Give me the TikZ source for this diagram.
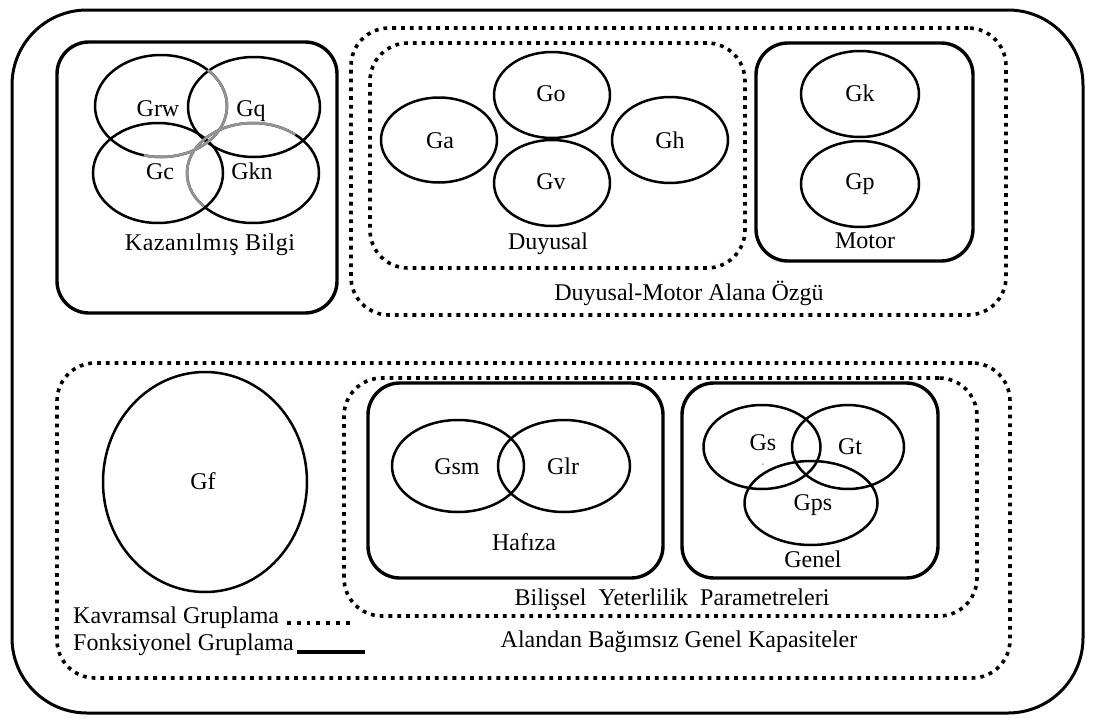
\documentclass[tikz,border=0pt]{standalone}
\usepackage{fontspec}
\setmainfont{Liberation Serif}
\usetikzlibrary{shapes.geometric}
\tikzset{
  solidbox/.style={draw, line width=3.4pt, rounded corners=32pt, inner sep=0pt},
  dotbox/.style={draw, line width=3.6pt, dash pattern=on 3.8pt off 5pt, rounded corners=38pt, inner sep=0pt},
  ell/.style={draw, ellipse, line width=2.5pt, inner sep=0pt},
  greyarc/.style={draw=black!42, line width=2.5pt},
  lbl/.style={inner sep=0pt, text height=15.5pt, text depth=0pt, font=\fontsize{24}{26}\selectfont},
  spaced/.style={inner sep=0pt, text height=15.5pt, text depth=0pt, font=\fontsize{24}{26}\selectfont\addfontfeature{LetterSpace=2}}
}
\begin{document}
\begin{tikzpicture}[x=1pt,y=-1pt]
\useasboundingbox (0,0) rectangle (1093,720);
% outer frame
\node[draw, line width=3pt, rounded corners=75pt, minimum width=1071pt, minimum height=703pt, inner sep=0pt] (outer) at (547.5,361.5) {};

% Kazanilmis Bilgi
\node[solidbox, minimum width=280pt, minimum height=271pt] (kaz) at (197,177.5) {};
\node[ell, minimum width=132pt, minimum height=102pt] (grw) at (161,106) {};
\node[ell, minimum width=132pt, minimum height=100pt] (gq) at (254,107) {};
\node[ell, minimum width=130pt, minimum height=100pt] (gc) at (158,173) {};
\node[ell, minimum width=132pt, minimum height=100pt] (gkn) at (253,173) {};
\draw[greyarc] (grw.center) ++(-45:66 and 51) arc[start angle=-45, end angle=105, x radius=66, y radius=51];
\draw[greyarc] (gkn.center) ++(-50:66 and 50) arc[start angle=-50, end angle=-222, x radius=66, y radius=50];
\node[lbl] (tgrw) at (158,109) {Grw};
\node[lbl] (tgq) at (251,109) {Gq};
\node[lbl] (tgc) at (160,172) {Gc};
\node[lbl] (tgkn) at (252,172) {Gkn};
\node[spaced] (tkaz) at (210,242.5) {Kazanılmış Bilgi};

% Duyusal-Motor
\node[dotbox, minimum width=655pt, minimum height=287pt] (dm) at (678.5,171.5) {};
\node[dotbox, minimum width=375pt, minimum height=225pt] (duy) at (557.5,155.5) {};
\node[solidbox, minimum width=217pt, minimum height=218pt] (mot) at (864.5,152) {};
\node[ell, minimum width=116pt, minimum height=85pt] (ga) at (439,140) {};
\node[ell, minimum width=116pt, minimum height=86pt] (go) at (552,95) {};
\node[ell, minimum width=116pt, minimum height=86pt] (gv) at (552,183) {};
\node[ell, minimum width=116pt, minimum height=86pt] (gh) at (670,140) {};
\node[ell, minimum width=118pt, minimum height=86pt] (gk) at (860,94) {};
\node[ell, minimum width=118pt, minimum height=86pt] (gp) at (860,184) {};
\node[lbl] (tga) at (440,141) {Ga};
\node[lbl] (tgo) at (551,94) {Go};
\node[lbl] (tgv) at (551,182) {Gv};
\node[lbl] (tgh) at (670,141) {Gh};
\node[lbl] (tgk) at (860,94) {Gk};
\node[lbl] (tgp) at (860,182) {Gp};
\node[lbl] (tduy) at (548,242) {Duyusal};
\node[lbl] (tmot) at (865,241) {Motor};
\node[lbl] (tdm) at (689,292.5) {Duyusal-Motor Alana Özgü};

% Alandan Bagimsiz
\node[dotbox, minimum width=953pt, minimum height=315pt] (alb) at (533.5,520.5) {};
\node[dotbox, minimum width=633pt, minimum height=238pt] (bil) at (660.5,497) {};
\node[solidbox, minimum width=295pt, minimum height=195pt] (haf) at (515.5,480.5) {};
\node[solidbox, minimum width=256pt, minimum height=195pt] (gen) at (810,480.5) {};
\node[ell, minimum width=204pt, minimum height=220pt] (gf) at (205,482) {};
\node[lbl] (tgf) at (203,482) {Gf};
\node[ell, minimum width=132pt, minimum height=92pt] (gsm) at (458,466) {};
\node[ell, minimum width=132pt, minimum height=92pt] (glr) at (564,466) {};
\node[lbl] (tgsm) at (457,467) {Gsm};
\node[lbl] (tglr) at (563,467) {Glr};
\node[lbl] (thaf) at (524,543) {Hafıza};
\node[ell, minimum width=117pt, minimum height=84pt] (gs) at (762,447) {};
\node[ell, minimum width=112pt, minimum height=84pt] (gt) at (848,447) {};
\node[ell, minimum width=133pt, minimum height=84pt] (gps) at (811,503) {};
\node[lbl] (tgs) at (763,443) {Gs};
\node[inner sep=0pt, font=\fontsize{8}{8}\selectfont, text=black!60] (tick) at (763,465) {-};
\node[lbl] (tgt) at (850,447) {Gt};
\node[lbl] (tgps) at (813,503) {Gps};
\node[lbl] (tgen) at (813,560) {Genel};
\node[lbl] (tbil) at (672,597.5) {Bilişsel\ \ Yeterlilik\ \ Parametreleri};
\node[lbl] (talb) at (679,640) {Alandan Bağımsız Genel Kapasiteler};

% legend
\node[lbl, anchor=west] (kav) at (73,615.5) {Kavramsal Gruplama};
\node[lbl, anchor=west] (fon) at (73,642.5) {Fonksiyonel Gruplama};
\coordinate (kavA) at (287,623);
\coordinate (kavB) at (355,623);
\coordinate (fonA) at (297,652);
\coordinate (fonB) at (365,652);
\draw[line width=3.6pt, dash pattern=on 3.8pt off 6pt] (kavA) -- (kavB);
\draw[line width=3.5pt] (fonA) -- (fonB);
\end{tikzpicture}
\end{document}
